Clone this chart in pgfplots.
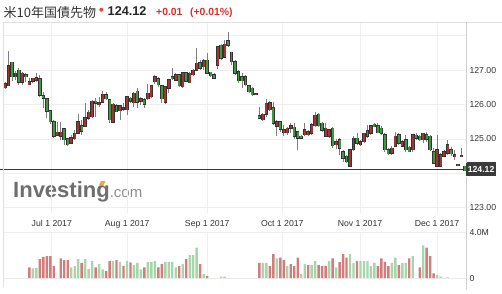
\documentclass[border=0pt]{standalone}
\usepackage{pgfplots}
\pgfplotsset{compat=1.18}
\usepackage{pgfplotstable}
\usepackage{fontspec}
\setmainfont{Liberation Sans}
\newfontfamily\cjk{Noto Sans CJK JP}
\definecolor{gridgray}{HTML}{EFEFEF}
\definecolor{labelgray}{HTML}{333333}
\definecolor{wickgray}{HTML}{7F7F7F}
\definecolor{candlered}{HTML}{A83232}
\definecolor{candlegreen}{HTML}{3E9A3E}
\definecolor{volred}{HTML}{CF7E7C}
\definecolor{volgreen}{HTML}{A9D5AA}
\definecolor{pricegray}{HTML}{3A3A3A}
\definecolor{bordergray}{HTML}{E0E0E0}
\definecolor{upred}{HTML}{D7302A}
\definecolor{dotred}{HTML}{E04A3F}
\definecolor{logogray}{HTML}{6E6E6E}
\definecolor{logolight}{HTML}{8E8E8E}
\definecolor{logoorange}{HTML}{F2A93B}
\pgfplotstableread{
i l bb bt h u v vr
0 126.45 126.49 126.60 126.64 1 0 0
1 126.54 126.54 127.12 127.55 1 0 0
2 126.68 126.81 127.22 127.22 0 0 0
3 126.71 126.81 126.90 126.97 1 0 0
4 126.58 126.64 127.00 127.05 0 0 0
5 126.57 126.64 126.90 126.95 1 0 0
6 126.66 126.81 126.86 126.90 0 0 0
7 126.57 126.57 126.66 126.78 1 0.92 1
8 126.61 126.68 126.76 126.78 1 0.83 0
9 126.66 126.71 126.78 126.90 1 0.89 0
10 126.23 126.26 126.74 126.86 0 1.64 1
11 125.89 126.18 126.26 126.37 0 1.84 1
12 125.60 125.81 126.16 126.18 0 1.90 1
13 125.43 125.50 125.81 125.84 0 1.90 1
14 125.02 125.07 125.50 125.55 0 1.06 1
15 125.10 125.10 125.19 125.48 1 0 0
16 124.97 125.07 125.19 125.48 1 1.70 1
17 124.83 124.97 125.29 125.31 0 1.55 1
18 124.78 124.83 125.00 125.02 0 1.55 1
19 124.85 124.87 125.04 125.12 1 0.92 0
20 124.97 125.00 125.16 125.26 1 1.03 0
21 125.16 125.16 125.50 125.72 1 1.64 0
22 125.12 125.23 125.38 125.55 0 1.32 1
23 125.36 125.36 125.62 126.03 1 1.64 0
24 125.55 125.60 125.77 125.84 1 0.78 0
25 125.62 125.65 126.10 126.13 1 1.47 0
26 125.65 126.03 126.10 126.18 0 0.92 1
27 125.94 126.00 126.05 126.23 1 1.21 0
28 126.03 126.06 126.29 126.39 1 0.75 0
29 126.13 126.16 126.28 126.37 0 0.63 1
30 125.45 125.55 126.13 126.16 0 1.49 1
31 125.45 125.48 126.01 126.03 1 1.49 0
32 125.77 125.79 125.96 126.00 0 1.55 1
33 125.55 125.81 125.96 125.99 1 1.41 0
34 125.81 125.86 125.91 126.03 1 1.06 1
35 125.68 125.84 126.23 126.26 1 1.49 0
36 126.03 126.10 126.18 126.23 0 1.35 1
37 125.94 126.05 126.32 126.37 1 1.12 0
38 125.91 126.06 126.39 126.47 0 1.32 0
39 125.99 126.10 126.16 126.23 1 0.75 0
40 125.91 126.00 126.13 126.18 0 0.92 1
41 126.13 126.16 126.32 126.58 1 1.38 0
42 126.20 126.23 126.55 126.58 1 1.41 0
43 126.58 126.66 126.81 126.86 1 1.47 0
44 126.52 126.57 126.74 126.81 0 0.92 1
45 126.03 126.16 126.55 126.57 0 1.21 1
46 126.00 126.06 126.52 126.55 1 1.41 0
47 126.32 126.47 126.71 126.74 1 1.41 0
48 126.71 126.74 126.81 127.05 0 1.41 0
49 126.68 126.71 126.86 126.90 1 0.92 0
50 126.52 126.55 126.86 126.87 0 1.03 1
51 126.49 126.52 126.92 126.95 1 1.21 0
52 126.66 126.68 126.92 126.95 0 1.64 1
53 126.61 126.63 126.90 126.95 1 1.98 0
54 126.83 126.86 127.00 127.03 1 1.98 0
55 127.00 127.00 127.19 127.63 1 2.64 0
56 127.00 127.05 127.21 127.29 0 1.21 1
57 127.00 127.10 127.27 127.31 1 0.34 0
58 126.88 126.90 127.29 127.50 0 0.17 1
59 126.80 126.83 126.93 126.95 0 0 0
60 126.73 126.76 126.86 126.90 0 0 0
61 127.02 127.14 127.68 127.70 1 0 0
62 127.30 127.34 127.72 127.77 0 0.11 0
63 127.34 127.37 127.75 127.87 1 0.11 0
64 127.68 127.72 127.85 128.11 0 0 0
65 127.14 127.24 127.51 127.53 0 0 0
66 126.85 126.90 127.24 127.29 0 0 0
67 126.61 126.69 126.95 127.00 0 0 0
68 126.47 126.69 126.81 126.90 0 0 0
69 126.54 126.57 126.81 126.86 0 0 0
70 126.34 126.37 126.54 126.57 0 0 0
71 126.25 126.28 126.47 126.52 0 0 0
72 126.27 126.28 126.31 126.33 1 0 0
73 125.57 125.60 125.67 125.92 0 1.32 1
74 125.52 125.55 125.72 125.75 1 1.32 0
75 125.65 125.72 126.03 126.15 1 1.32 0
76 125.80 125.84 126.05 126.10 1 1.03 1
77 125.40 125.45 125.91 126.08 0 2.07 1
78 125.07 125.37 125.50 125.55 1 1.70 0
79 125.21 125.28 125.50 125.52 0 1.78 1
80 125.07 125.18 125.26 125.41 1 1.55 1
81 125.12 125.18 125.31 125.34 1 1.03 0
82 125.18 125.31 125.38 125.45 1 1.21 1
83 125.00 125.07 125.34 125.45 0 1.03 1
84 124.68 125.02 125.21 125.24 0 1.78 1
85 124.99 125.02 125.07 125.10 0 0.34 0
86 125.07 125.12 125.26 125.45 1 1.21 0
87 125.07 125.12 125.21 125.26 1 1.12 1
88 125.12 125.16 125.41 125.45 1 1.12 0
89 125.34 125.38 125.69 125.79 1 1.47 0
90 125.34 125.38 125.72 125.74 0 1.12 1
91 125.20 125.25 125.45 125.50 0 1.06 1
92 125.05 125.07 125.31 125.45 1 1.06 1
93 125.02 125.07 125.26 125.30 1 1.47 0
94 124.75 124.80 125.31 125.34 0 1.70 1
95 124.70 124.83 124.92 124.99 1 0.92 0
96 124.54 124.73 124.97 125.02 0 1.38 1
97 124.34 124.44 124.63 124.68 0 2.07 1
98 124.31 124.34 124.49 124.54 0 1.78 1
99 124.18 124.20 124.68 124.70 1 2.07 0
100 124.66 124.68 125.02 125.07 1 1.32 0
101 124.83 124.87 125.02 125.16 0 1.47 1
102 124.80 124.83 124.92 124.97 1 1.47 0
103 124.87 124.92 125.16 125.18 1 1.47 0
104 125.02 125.07 125.24 125.41 0 1.47 0
105 125.12 125.16 125.38 125.41 1 1.03 0
106 125.34 125.36 125.43 125.47 0 1.32 0
107 125.16 125.18 125.38 125.45 0 1.03 1
108 125.12 125.16 125.31 125.36 0 1.70 1
109 124.63 124.68 125.12 125.16 0 1.41 1
110 124.54 124.57 124.68 124.73 0 1.03 1
111 124.54 124.58 124.73 124.78 1 1.32 0
112 124.76 124.78 125.07 125.21 1 1.78 0
113 124.83 124.87 125.12 125.16 0 1.12 1
114 124.76 124.78 124.92 124.97 1 1.32 0
115 124.63 124.68 124.97 125.12 0 1.32 0
116 124.61 124.63 124.76 124.80 0 1.70 1
117 124.63 124.68 125.12 125.14 1 1.90 0
118 124.97 125.02 125.10 125.16 0 0 0
119 124.95 124.97 125.07 125.12 0 0.92 1
120 124.87 124.97 125.16 125.18 1 2.84 0
121 124.92 124.99 125.12 125.21 0 2.64 1
122 124.66 124.68 125.07 125.12 0 1.90 1
123 124.27 124.29 124.63 124.73 0 0.40 1
124 124.18 124.20 124.68 125.12 1 0.26 0
125 124.18 124.20 124.54 124.58 1 0.11 0
126 124.46 124.49 124.63 124.68 1 0 0
127 124.54 124.58 124.83 124.97 1 0.06 0
128 124.49 124.57 124.68 124.76 0 0 0
129 124.39 124.49 124.54 124.68 1 0 0
130 124.24 124.24 124.26 124.26 1 0 0
131 124.48 124.50 124.53 124.75 1 0 0
132 124.06 124.08 124.20 124.22 0 0 0
}\candles
\begin{document}
\begin{tikzpicture}
\useasboundingbox (0pt,0pt) rectangle (502pt,-293pt);
% title
\node[anchor=base west, inner sep=0pt, text=labelgray, font=\cjk\fontsize{13}{13}\selectfont] at (3.5pt,-17.5pt) {米10年国債先物};
\fill[dotred] (101.3pt,-9.7pt) circle (2pt);
\node[anchor=base west, inner sep=0pt, text=black!85, font=\bfseries\fontsize{12.7}{13}\selectfont] at (107.5pt,-15.3pt) {124.12};
\node[anchor=base west, inner sep=0pt, text=upred, font=\bfseries\fontsize{10.4}{11}\selectfont] at (156pt,-15.3pt) {+0.01};
\node[anchor=base west, inner sep=0pt, text=upred, font=\bfseries\fontsize{10.4}{11}\selectfont] at (190pt,-15.3pt) {(+0.01\%)};
% logo
\node[anchor=base west, inner sep=0pt] at (13pt,-197.5pt) {\fontsize{22}{22}\selectfont\bfseries\color{logogray}Investing\fontsize{15}{15}\selectfont\mdseries\color{logolight}.com};
\fill[logoorange] (99pt,-185pt) -- (101pt,-181pt) -- (105.5pt,-181pt) -- (103.5pt,-185pt) -- cycle;
\begin{axis}[at={(3pt,-22pt)}, anchor=north west, width=463pt, height=191pt, scale only axis,
  xmin=-0.574, xmax=132.28, ymin=122.847, ymax=128.394,
  axis line style={draw=none}, major tick length=0pt,
  xtick={13.43,35.06,58.02,79.57,101.87,123.96},
  xticklabels={Jul 1 2017,Aug 1 2017,Sep 1 2017,Oct 1 2017,Nov 1 2017,Dec 1 2017},
  ytick={123,125,126,127}, yticklabels={123.00,125.00,126.00,127.00},
  extra y ticks={124,128}, extra y tick labels={},
  extra tick style={grid=major},
  yticklabel pos=right,
  grid=major, grid style={draw=gridgray, line width=0.7pt},
  tick label style={font=\fontsize{8.7}{10}\selectfont, text=labelgray},
  yticklabel style={anchor=west},
  xticklabel style={yshift=-4pt},
  clip=false]
\draw[pricegray, line width=1.1pt] (axis cs:-1.44,124.12) -- (axis cs:132.28,124.12);
% wicks
\addplot[draw=none, mark=none, forget plot, error bars/.cd, y dir=both, y explicit, error mark=none,
  error bar style={line width=0.9pt, draw=wickgray}]
  table[x=i, y expr={(\thisrow{h}+\thisrow{l})/2}, y error expr={(\thisrow{h}-\thisrow{l})/2}] {\candles};
% body outline
\addplot[draw=none, mark=none, forget plot, error bars/.cd, y dir=both, y explicit, error mark=none,
  error bar style={line width=3.5pt, draw=black!80}]
  table[x=i, y expr={(\thisrow{bt}+\thisrow{bb})/2}, y error expr={(\thisrow{bt}-\thisrow{bb})/2+0.015}] {\candles};
% red bodies
\addplot[draw=none, mark=none, forget plot, restrict expr to domain={\thisrow{u}}{0.5:1.5},
  error bars/.cd, y dir=both, y explicit, error mark=none,
  error bar style={line width=1.9pt, draw=candlered}]
  table[x=i, y expr={(\thisrow{bt}+\thisrow{bb})/2}, y error expr={(\thisrow{bt}-\thisrow{bb})/2}] {\candles};
% green bodies
\addplot[draw=none, mark=none, forget plot, restrict expr to domain={\thisrow{u}}{-0.5:0.5},
  error bars/.cd, y dir=both, y explicit, error mark=none,
  error bar style={line width=1.9pt, draw=candlegreen}]
  table[x=i, y expr={(\thisrow{bt}+\thisrow{bb})/2}, y error expr={(\thisrow{bt}-\thisrow{bb})/2}] {\candles};
\node[fill=pricegray, text=white, inner xsep=1.6pt, inner ysep=0pt, minimum height=14pt, anchor=west,
  font=\bfseries\fontsize{8.7}{10}\selectfont] at (axis cs:132.28,124.12) {124.12};
\end{axis}
\begin{axis}[at={(3pt,-232pt)}, anchor=north west, width=463pt, height=46pt, scale only axis,
  xmin=-0.574, xmax=132.28, ymin=0, ymax=4,
  axis line style={draw=none}, major tick length=0pt,
  xtick={13.43,35.06,58.02,79.57,101.87,123.96}, xticklabels={},
  ytick={0,4}, yticklabels={0,4.0M}, yticklabel pos=right,
  grid=major, grid style={draw=gridgray, line width=0.7pt},
  tick label style={font=\fontsize{8.7}{10}\selectfont, text=labelgray},
  yticklabel style={anchor=west}]
\addplot[ybar, bar width=2.4pt, bar shift=0pt, fill=volred, draw=none,
  restrict expr to domain={\thisrow{vr}}{0.5:1.5}] table[x=i, y=v] {\candles};
\addplot[ybar, bar width=2.4pt, bar shift=0pt, fill=volgreen, draw=none,
  restrict expr to domain={\thisrow{vr}}{-0.5:0.5}] table[x=i, y=v] {\candles};
\end{axis}
\draw[bordergray, line width=0.8pt] (3pt,-22pt) -- (502pt,-22pt);
\draw[bordergray, line width=0.8pt] (3pt,-22pt) -- (3pt,-287pt);
\draw[black!18, line width=0.8pt] (466pt,-22pt) -- (466pt,-163pt);
\draw[black!18, line width=0.8pt] (466pt,-177pt) -- (466pt,-290pt);
\end{tikzpicture}
\end{document}
